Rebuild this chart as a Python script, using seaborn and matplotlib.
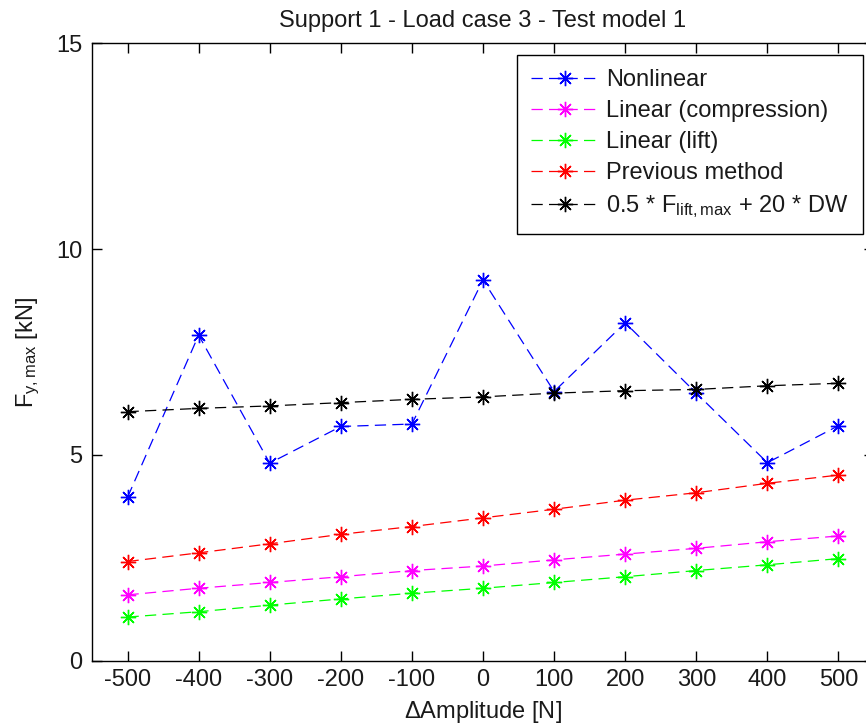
import matplotlib
matplotlib.use("Agg")
import matplotlib.pyplot as plt
import seaborn as sns
import numpy as np

amplitude = [-500, -400, -300, -200, -100, 0, 100, 200, 300, 400, 500]
nonlinear = [3.97, 7.91, 4.80, 5.69, 5.75, 9.25, 6.54, 8.21, 6.50, 4.81, 5.71]
linear_compression = [1.60, 1.76, 1.90, 2.04, 2.19, 2.30, 2.45, 2.59, 2.73, 2.89, 3.03]
linear_lift = [1.06, 1.19, 1.35, 1.50, 1.64, 1.76, 1.90, 2.04, 2.19, 2.33, 2.48]
previous_method = [2.41, 2.62, 2.84, 3.07, 3.26, 3.47, 3.68, 3.90, 4.08, 4.31, 4.51]
combined = [6.05, 6.13, 6.19, 6.27, 6.35, 6.41, 6.50, 6.56, 6.59, 6.68, 6.74]

labels = ["Nonlinear", "Linear (compression)", "Linear (lift)", "Previous method",
          r"0.5 * F$_{\mathregular{lift,max}}$ + 20 * DW"]
colors = ["#0000ff", "#ff00ff", "#00ff00", "#ff0000", "#000000"]
series = [nonlinear, linear_compression, linear_lift, previous_method, combined]

sns.set_style("ticks")
plt.rcParams["font.family"] = ["Liberation Sans", "DejaVu Sans"]
plt.rcParams["mathtext.fontset"] = "custom"
plt.rcParams["mathtext.rm"] = "Liberation Sans"
plt.rcParams["mathtext.it"] = "Liberation Sans"
plt.rcParams["axes.unicode_minus"] = False
plt.rcParams["xtick.direction"] = "in"
plt.rcParams["ytick.direction"] = "in"
plt.rcParams["xtick.top"] = True
plt.rcParams["ytick.right"] = True

FS = 17
TXT = "#1a1a1a"

fig = plt.figure(figsize=(8.66, 7.27), dpi=100)
ax = fig.add_axes([92/866, (727-660.7)/727, (874-92)/866, (660.7-43.3)/727])

for vals, lab, col in zip(series, labels, colors):
    sns.lineplot(x=amplitude, y=vals, ax=ax, color=col, label=lab,
                 marker=(8, 2, 0), markersize=11, markeredgewidth=1.0,
                 markeredgecolor=col, linewidth=0.9, linestyle=(0, (9, 5)))

ax.set_xlim(-550, 550)
ax.set_ylim(0, 15)
ax.set_xticks(amplitude)
ax.set_yticks([0, 5, 10, 15])
ax.tick_params(axis="both", which="both", direction="in", length=7, width=1,
               labelsize=FS, top=True, right=True, color="black", labelcolor=TXT)
ax.tick_params(axis="x", pad=6)
ax.tick_params(axis="y", pad=7)
for s in ax.spines.values():
    s.set_visible(True)
    s.set_linewidth(1.0)
    s.set_color("black")

ax.set_title("Support 1 - Load case 3 - Test model 1", fontsize=FS, pad=12, color=TXT)
ax.set_xlabel(r"$\Delta$Amplitude [N]", fontsize=FS, labelpad=6, color=TXT)
ax.set_ylabel(r"F$_{\mathregular{y,max}}$ [kN]", fontsize=FS, labelpad=10, color=TXT)

leg = ax.legend(loc="upper right", bbox_to_anchor=(863/866, 1-55/727),
                bbox_transform=fig.transFigure, borderaxespad=0, fontsize=FS,
                frameon=True, fancybox=False, edgecolor="black", framealpha=1,
                handlelength=2.9, handletextpad=0.3, labelspacing=0.38,
                borderpad=0.6)
leg.get_frame().set_linewidth(1.0)
for t in leg.get_texts():
    t.set_color(TXT)

fig.savefig("out.png", dpi=100)
